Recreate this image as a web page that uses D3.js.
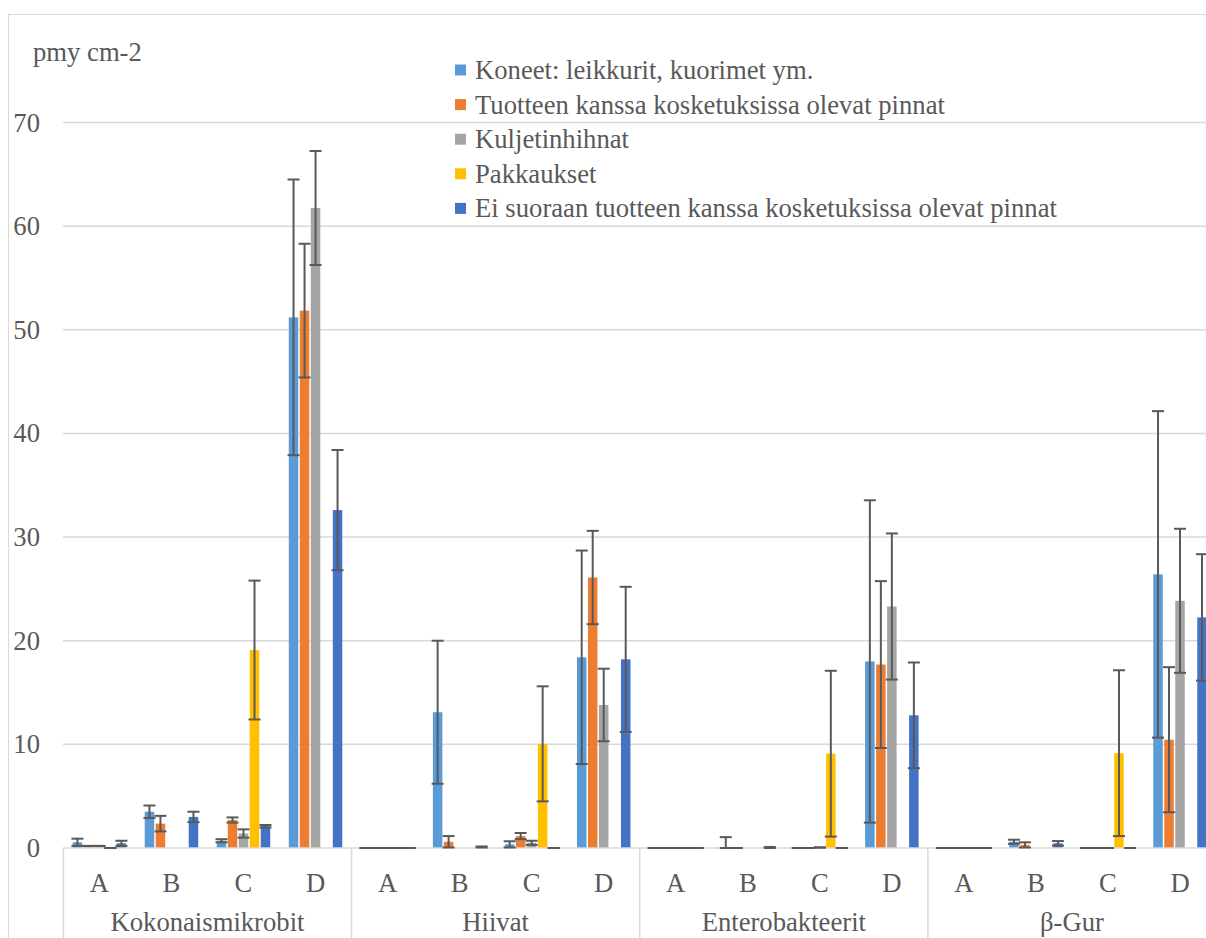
<!DOCTYPE html>
<html>
<head>
<meta charset="utf-8">
<script src="https://cdn.jsdelivr.net/npm/d3@7"></script>
<style>
  body { margin: 0; background: #fff; }
</style>
</head>
<body>
<svg width="1206" height="938"></svg>
<script>
var groups = ["Kokonaismikrobit", "Hiivat", "Enterobakteerit", "β-Gur"];
var subs = ["A", "B", "C", "D"];
var seriesNames = [
    "Koneet: leikkurit, kuorimet ym.",
    "Tuotteen kanssa kosketuksissa olevat pinnat",
    "Kuljetinhihnat",
    "Pakkaukset",
    "Ei suoraan tuotteen kanssa kosketuksissa olevat pinnat"
];
var colors = ["#5B9BD5", "#ED7D31", "#A5A5A5", "#FFC000", "#4472C4"];
var yTicks = [0, 10, 20, 30, 40, 50, 60, 70];

// values per series, 16 categories (group x A-D); null = no data
var koneet      = [0.55, 3.5, 0.7, 51.2,   0, 13.1, 0.35, 18.4,   0, 0, 0, 18.0,    0, 0.6, 0, 26.4];
var koneetErr   = [0.35, 0.6, 0.15, 13.3,  0, 6.9, 0.3, 10.3,     0, 1.05, 0, 15.55, 0, 0.2, 0, 15.75];
var tuotteen    = [0.2, 2.35, 2.7, 51.85,  0, 0.6, 1.15, 26.1,    0, 0, 0, 17.7,    0, 0.3, 0, 10.45];
var tuotteenErr = [0, 0.75, 0.25, 6.45,    0, 0.55, 0.3, 4.5,     0, 0, 0, 8.05,    0, 0.25, 0, 7.0];
var kuljetin    = [0.2, null, 1.4, 61.75,  0, null, 0.5, 13.8,    0, null, 0.05, 23.3, 0, null, 0, 23.85];
var kuljetinErr = [0, null, 0.4, 5.5,      0, null, 0.2, 3.5,     0, null, 0, 7.05,  0, null, 0, 6.95];
var pakkaus     = [0, null, 19.1, null,    0, null, 10.05, null,  0, null, 9.1, null, 0, null, 9.15, null];
var pakkausErr  = [0, null, 6.7, null,     0, null, 5.55, null,   0, null, 8.0, null, 0, null, 8.0, null];
var eiSuoraan   = [0.45, 3.0, 2.1, 32.6,   0, 0.1, 0, 18.2,       0, 0.05, 0, 12.8,  0, 0.45, 0, 22.25];
var eiSuoraanErr= [0.25, 0.5, 0.12, 5.8,   0, 0.05, 0, 7.0,       0, 0.05, 0, 5.1,   0, 0.22, 0, 6.1];

var values = [koneet, tuotteen, kuljetin, pakkaus, eiSuoraan];
var errors = [koneetErr, tuotteenErr, kuljetinErr, pakkausErr, eiSuoraanErr];

var FONT = "'Liberation Serif', 'Times New Roman', 'DejaVu Serif', serif";
var svg = d3.select("svg")
    .attr("font-family", FONT)
    .attr("fill", "#595959");

var cats = [];
groups.forEach(function (g) { subs.forEach(function (s) { cats.push(g + "|" + s); }); });

var x = d3.scaleBand().domain(cats).range([63.4, 63.4 + 16 * 72.04]).padding(0);
var xs = d3.scaleBand().domain(d3.range(5)).range([-27.5, 27.5]).padding(0);
var y = d3.scaleLinear().domain([0, 70]).range([848, 122.5]);

// chart border
svg.append("rect")
    .attr("x", 8.5).attr("y", 14.5)
    .attr("width", 1220).attr("height", 940)
    .attr("fill", "none").attr("stroke", "#d9d9d9");

// gridlines
svg.append("g").selectAll("line")
    .data(yTicks.slice(1))
    .enter().append("line")
    .attr("x1", 63).attr("x2", 1206)
    .attr("y1", function (d) { return y(d); })
    .attr("y2", function (d) { return y(d); })
    .attr("stroke", "#d9d9d9").attr("stroke-width", 1.5);

svg.append("g").selectAll("text")
    .data(yTicks)
    .enter().append("text")
    .attr("x", 40)
    .attr("y", function (d) { return y(d) + 9; })
    .attr("text-anchor", "end")
    .attr("font-family", FONT)
    .attr("font-size", "26.67px")
    .text(function (d) { return d; });

svg.append("text")
    .attr("x", 33).attr("y", 61)
    .attr("font-family", FONT)
    .attr("font-size", "26.67px")
    .text("pmy cm-2");

// bars
var bw = 9.5;
values.forEach(function (vals, si) {
    var g = svg.append("g");
    g.selectAll("rect")
        .data(vals.map(function (v, i) { return { v: v, c: cats[i] }; }).filter(function (d) { return d.v != null && d.v > 0; }))
        .enter().append("rect")
        .attr("x", function (d) { return x(d.c) + x.bandwidth() / 2 + xs(si) + xs.bandwidth() / 2 - bw / 2; })
        .attr("width", bw)
        .attr("y", function (d) { return y(d.v); })
        .attr("height", function (d) { return y(0) - y(d.v); })
        .attr("fill", colors[si]);
});

// category axis line
svg.append("line")
    .attr("x1", 63).attr("x2", 1206)
    .attr("y1", y(0)).attr("y2", y(0))
    .attr("stroke", "#d9d9d9").attr("stroke-width", 1.5);

// error bars
values.forEach(function (vals, si) {
    var g = svg.append("g").attr("stroke", "#595959").attr("stroke-width", 2);
    vals.forEach(function (v, i) {
        if (v == null) return;
        var e = errors[si][i];
        var cx = x(cats[i]) + x.bandwidth() / 2 + xs(si) + xs.bandwidth() / 2;
        var lo = Math.max(0, v - e), hi = v + e;
        g.append("line").attr("x1", cx).attr("x2", cx).attr("y1", y(lo)).attr("y2", y(hi));
        g.append("line").attr("x1", cx - 6).attr("x2", cx + 6).attr("y1", y(hi)).attr("y2", y(hi));
        g.append("line").attr("x1", cx - 6).attr("x2", cx + 6).attr("y1", y(lo)).attr("y2", y(lo));
    });
});

// group separators
svg.append("g").selectAll("line")
    .data(d3.range(5))
    .enter().append("line")
    .attr("x1", function (d) { return 63.4 + d * 4 * 72.04; })
    .attr("x2", function (d) { return 63.4 + d * 4 * 72.04; })
    .attr("y1", y(0)).attr("y2", 938)
    .attr("stroke", "#d9d9d9").attr("stroke-width", 1.5);

// sub labels
svg.append("g").selectAll("text")
    .data(cats)
    .enter().append("text")
    .attr("x", function (d) { return x(d) + x.bandwidth() / 2; })
    .attr("y", 892)
    .attr("text-anchor", "middle")
    .attr("font-family", FONT)
    .attr("font-size", "26.67px")
    .text(function (d) { return d.split("|")[1]; });

// group labels
svg.append("g").selectAll("text")
    .data(groups)
    .enter().append("text")
    .attr("x", function (d, i) { return 63.4 + (i * 4 + 2) * 72.04; })
    .attr("y", 931)
    .attr("text-anchor", "middle")
    .attr("font-family", FONT)
    .attr("font-size", "26.67px")
    .text(function (d) { return d; });

// legend
var legend = svg.append("g").attr("transform", "translate(455,70)");
seriesNames.forEach(function (name, i) {
    legend.append("rect")
        .attr("x", 0).attr("y", i * 34.6 - 5.5)
        .attr("width", 11).attr("height", 11)
        .attr("fill", colors[i]);
    legend.append("text")
        .attr("x", 20).attr("y", i * 34.6 + 9)
        .attr("font-family", FONT)
        .attr("font-size", "26.67px")
        .text(name);
});
</script>
</body>
</html>
